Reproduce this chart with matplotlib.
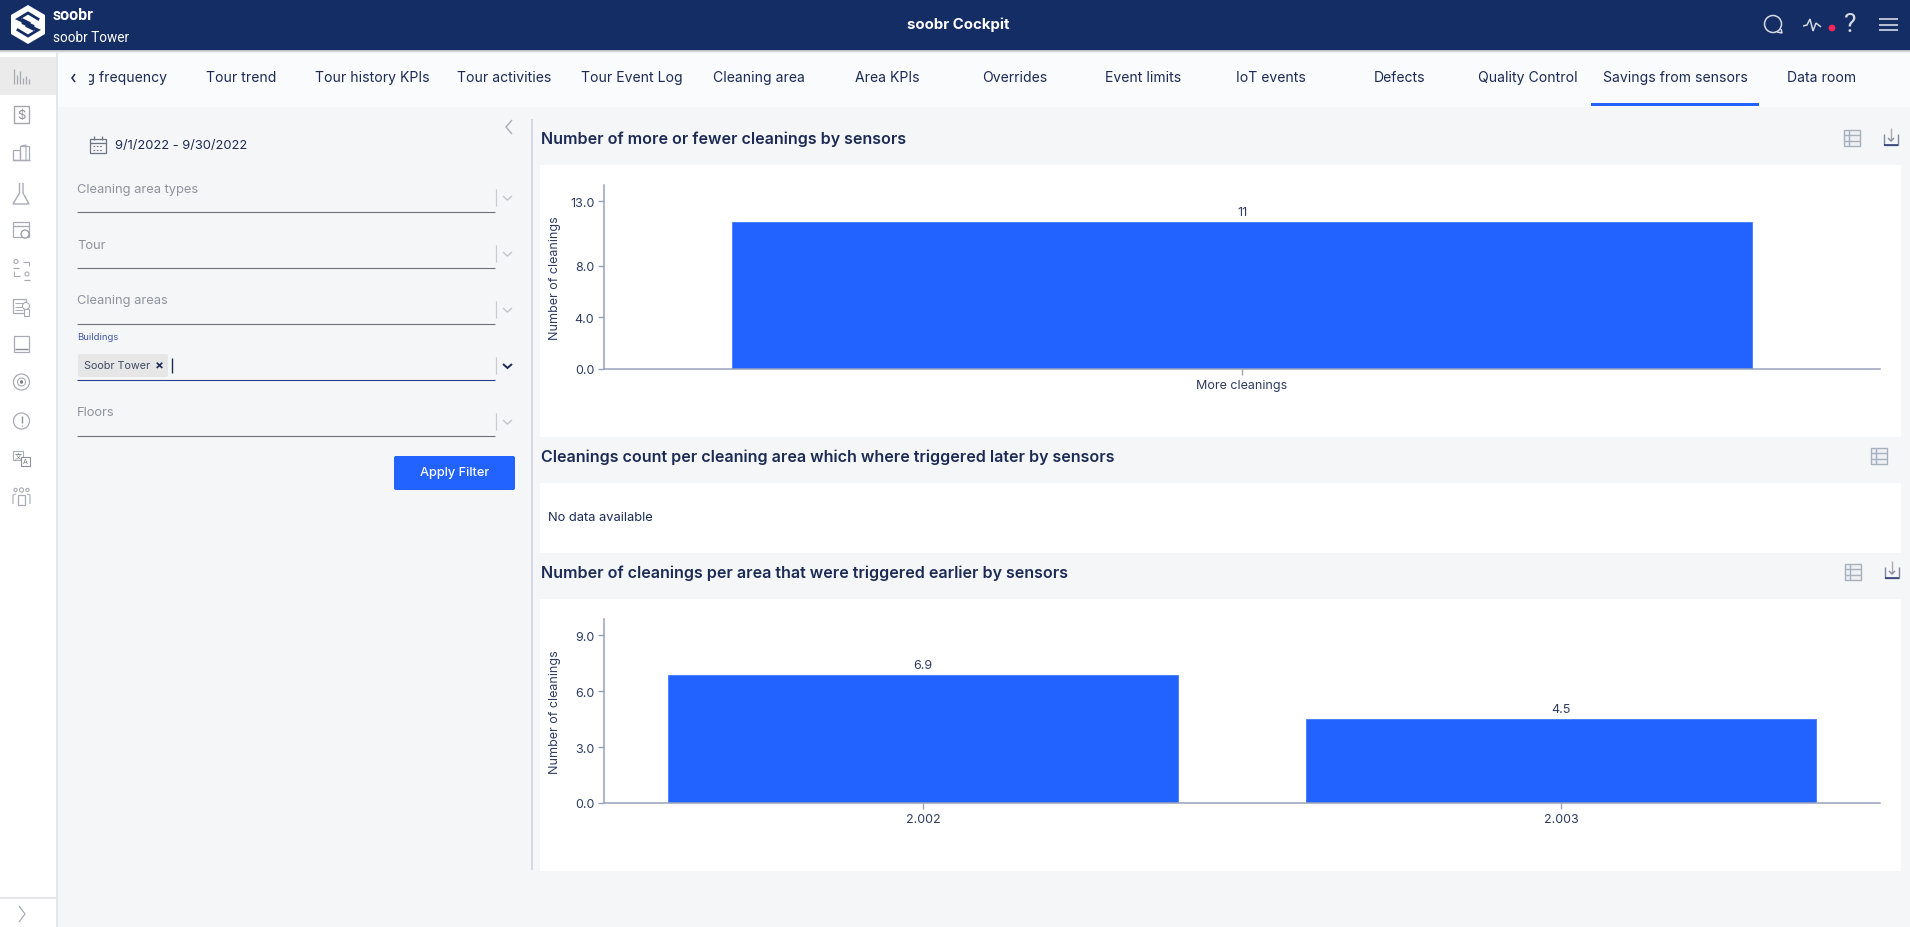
import matplotlib
matplotlib.use("Agg")
import matplotlib.pyplot as plt
from matplotlib.patches import Rectangle, Circle, Polygon, FancyBboxPatch

plt.rcParams['font.family'] = ['Inter', 'DejaVu Sans']

W, H = 1910, 928
NAVY = '#152d65'; BG = '#f5f6f8'; BLUE = '#2263ff'; TXT = '#1c2b55'; AXC = '#98a2bb'
ICON = '#a9acb6'; GREY = '#8f939e'

# ---- data ----
chart1_categories = ['More cleanings']
chart1_values = [11.35]
chart1_labels = ['11']
chart1_ticks = [0, 4, 8, 13]
chart2_categories = ['2.002', '2.003']
chart2_values = [6.86, 4.5]
chart2_labels = ['6.9', '4.5']
chart2_ticks = [0, 3, 6, 9]
tab_names = ['Tour trend', 'Tour history KPIs', 'Tour activities', 'Tour Event Log', 'Cleaning area',
             'Area KPIs', 'Overrides', 'Event limits', 'IoT events', 'Defects', 'Quality Control',
             'Savings from sensors', 'Data room']
tab_centers = [241, 372, 504, 632, 759, 887, 1015, 1143.5, 1271, 1399.5, 1528, 1675, 1822]

fig = plt.figure(figsize=(W / 100, H / 100), dpi=100, facecolor=BG)
ui = fig.add_axes([0, 0, 1, 1])
ui.set_xlim(0, W); ui.set_ylim(H - 1, -1); ui.axis('off')

def rect(x0, y0, x1, y1, c, z=1):
    ui.add_patch(Rectangle((x0, y0), x1 - x0, y1 - y0, fc=c, ec='none', zorder=z))

def line(xs, ys, c=ICON, lw=1.0, z=3):
    ui.plot(xs, ys, color=c, lw=lw, zorder=z, solid_capstyle='butt', solid_joinstyle='miter')

def text(x, y, s, size, c=TXT, ha='left', weight='normal', z=5, **kw):
    return ui.text(x, y, s, fontsize=size, color=c, ha=ha, va='center', fontweight=weight, zorder=z, **kw)

def circ(x, y, r, c=ICON, lw=1.0, fill='none', z=3):
    ui.add_patch(Circle((x, y), r, fc=fill, ec=c, lw=lw, zorder=z))

def box(x0, y0, x1, y1, c=ICON, lw=1.0, fill='none', z=3):
    ui.add_patch(Rectangle((x0, y0), x1 - x0, y1 - y0, fc=fill, ec=c, lw=lw, zorder=z))

# ---- page regions ----
rect(0, 50, W, 107, '#fafbfd')
rect(0, 50, 56, H + 2, 'white', 2)
rect(56, 50, 58, H + 2, '#e4e6eb', 2)
rect(0, 57, 56, 95, '#ebebeb', 3)
rect(0, 897, 56, 899, '#e4e6eb', 3)
rect(0, -2, W, 49.5, NAVY, 6)
for i, c in enumerate(['#b9bcc4', '#d8dae0', '#ecedf1']):
    rect(0, 49.5 + i, W, 50.5 + i, c, 6)
rect(531, 119, 532.5, 870, '#d5d8e0', 2)

# ---- header ----
ui.add_patch(Polygon([(28, 5), (45, 15), (45, 34), (28, 44), (11, 34), (11, 15)], fc='white', ec='none', zorder=7))
ui.plot([38, 28, 18, 33, 33, 27], [19, 13, 19, 26, 29, 26], color=NAVY, lw=2.0, zorder=8, solid_joinstyle='miter')
ui.plot([18, 28, 38, 23, 23, 29], [30, 36, 30, 23, 20, 23], color=NAVY, lw=2.0, zorder=8, solid_joinstyle='miter')
text(53, 15, 'soobr', 11.5, 'white', weight='bold', z=8, family='Roboto')
text(53, 37, 'soobr Tower', 9.8, 'white', z=8, family='Roboto')
text(958, 24, 'soobr Cockpit', 10.8, 'white', ha='center', weight='bold', z=8)
circ(1773, 24, 8.5, '#d5d9e4', 1.1, z=8)
line([1777, 1782, 1781], [32, 33, 29], '#d5d9e4', 1.1, 8)
line([1803, 1807, 1810, 1813, 1816, 1821], [26, 25, 19, 31, 23, 27], '#d5d9e4', 1.1, 8)
circ(1832, 28, 3.4, 'none', 0, '#f5275a', 8)
text(1850, 24.5, '?', 19, '#d5d9e4', ha='center', z=8, family='Roboto')
for yy in (19, 25, 30):
    line([1879, 1898], [yy, yy], '#e6e8ee', 1.1, 8)

# ---- tabs ----
text(167, 77, 'ng frequency', 10.1, ha='right')
rect(58, 60, 89, 100, '#fafbfd', 6)
line([75, 72, 75], [74, 78, 82], TXT, 1.1, 7)
for name, cx in zip(tab_names, tab_centers):
    text(cx, 77, name, 10.1, ha='center', z=5)
rect(1591, 103, 1759, 106, BLUE, 5)

# ---- sidebar icons ----
for x, top in zip((14, 17, 20, 23, 26, 29), (69, 75, 71, 78, 76, 79)):
    line([x, x], [top, 84], '#a6a8b2', 0.9, 4)
box(14, 106, 29, 123, '#a9a4ad', 1.0)
text(21.5, 114.5, '$', 9.5, '#8d8f9b', ha='center')
box(13, 150, 20, 160, ICON, 0.9); box(20, 146, 29, 160, ICON, 0.9)
line([13, 30], [160, 160], ICON, 1.0)
line([21, 26, 26], [146, 145, 160], ICON, 0.8)
line([19.5, 19.5, 13, 29, 23, 23], [183, 193, 204, 204, 193, 183], ICON, 1.0)
box(13, 222, 29, 237, ICON, 0.9)
line([13, 29], [226, 226], ICON, 1.0)
circ(25, 234, 4, '#989ba7', 0.9, 'white', 4)
circ(16, 261.5, 2, ICON, 0.8); circ(27, 274, 2, ICON, 0.8)
line([13, 19], [268, 268], ICON, 0.9); line([24, 30], [280, 280], ICON, 0.9)
line([23, 29, 29], [262, 262, 266], ICON, 0.8); line([14, 14, 20], [271, 276, 276], ICON, 0.8)
box(13, 299, 26, 313, ICON, 0.9)
for yy in (303, 307, 310):
    line([15, 23], [yy, yy], ICON, 0.7)
circ(26, 306, 3.5, ICON, 0.8, 'white', 4); box(24, 309, 29, 316, ICON, 0.8, 'white', 4)
box(14, 336, 29, 352, ICON, 0.9)
line([15, 28], [349, 349], '#898c97', 1.0)
circ(21.5, 382, 8, ICON, 0.9); circ(21.5, 382, 4, ICON, 0.8); circ(21.5, 382, 1.3, '#777', 0.5, '#777')
circ(21.5, 421, 8, ICON, 0.9); line([21.5, 21.5], [416, 423], '#8d8f9b', 1.0); line([21.5, 21.5], [425, 426], '#8d8f9b', 1.0)
box(13, 451, 23, 460, ICON, 0.8); box(21, 457, 30, 466, '#8d8f9b', 0.8, 'white', 4)
text(18, 455.5, '文', 5, '#777', ha='center', family=['Noto Sans CJK SC'])
text(25.5, 461.5, 'A', 5, '#777', ha='center')
for cx, r in ((15.5, 1.6), (21.5, 2.1), (27.5, 1.6)):
    circ(cx, 490, r, ICON, 0.8)
box(18, 495, 25, 505, ICON, 0.9)
line([13, 13, 16], [504, 495, 494], ICON, 0.8); line([30, 30, 27], [504, 495, 494], ICON, 0.8)
line([19, 25, 19], [906, 914, 922], ICON, 0.9)

# ---- filter panel ----
line([512, 506, 512], [120, 127, 134], ICON, 1.0)
box(90, 139, 106, 153, '#6a7487', 0.9)
line([90, 106], [143, 143], '#6a7487', 0.9)
line([94, 94], [136, 140], '#6a7487', 0.9); line([102, 102], [136, 140], '#6a7487', 0.9)
for yy in (146, 150):
    ui.plot([93, 103], [yy, yy], color='#6a7487', lw=0.8, ls=(0, (1.5, 1.5)), zorder=3)
text(115, 144.5, '9/1/2022 - 9/30/2022', 9.3)

def field(label, ly, line_y, sep_top, active=False):
    if label:
        text(77, ly, label, 9.3, GREY)
    line([77, 495], [line_y, line_y], '#2b3f8e' if active else '#6e7179', 0.8)
    line([495.5, 495.5], [sep_top, sep_top + 17], '#c9cbd1', 0.9)
    cy = sep_top + 9
    c = '#1c2b55' if active else '#c4c6cc'
    line([503, 507.5, 512], [cy - 2, cy + 2, cy - 2], c, 1.4 if active else 1.0)

field('Cleaning area types', 189, 211.5, 189)
field('Tour', 245, 267.5, 245)
field('Cleaning areas', 300, 324, 301)
field('', 0, 380, 357, True)
field('Floors', 412, 436, 413)
text(77, 337, 'Buildings', 6.8, '#3f56a8')
ui.add_patch(FancyBboxPatch((78, 354), 90, 23, boxstyle='round,pad=0,rounding_size=2', fc='#e6e6e6', ec='none', zorder=3))
text(83.5, 365, 'Soobr Tower', 7.8, '#404a63')
text(159.5, 365, '×', 9.5, TXT, ha='center', weight='bold')
line([171.5, 171.5], [358, 373], TXT, 1.0)
ui.add_patch(FancyBboxPatch((394, 456), 121, 34, boxstyle='round,pad=0,rounding_size=2', fc=BLUE, ec='none', zorder=3))
text(455, 472, 'Apply Filter', 9.2, 'white', ha='center', weight='medium')

# ---- panels, titles, icons ----
rect(540, 165, 1901, 437, 'white')
rect(540, 483, 1901, 553, 'white')
rect(540, 599, 1901, 871, 'white')
text(541, 138, 'Number of more or fewer cleanings by sensors', 11.55, weight='semibold')
text(541, 456.5, 'Cleanings count per cleaning area which where triggered later by sensors', 11.55, weight='semibold')
text(541, 572.5, 'Number of cleanings per area that were triggered earlier by sensors', 11.55, weight='semibold')
text(548, 517, 'No data available', 9.3)

def table_icon(cx, cy):
    box(cx - 8, cy - 8, cx + 8, cy + 8, '#a8b0bc', 1.0, '#eef0f3')
    line([cx - 8, cx + 8], [cy - 3, cy - 3], '#a8b0bc', 1.0)
    line([cx - 8, cx + 8], [cy + 3, cy + 3], '#a8b0bc', 1.0)
    line([cx - 3, cx - 3], [cy - 8, cy + 8], '#9fb0c8', 1.0)

def download_icon(cx, cy):
    line([cx - 7, cx - 7, cx + 7, cx + 7], [cy - 3, cy + 8, cy + 8, cy - 3], '#7f8aa3', 1.0)
    line([cx - 7, cx + 7], [cy + 8, cy + 8], '#33407a', 1.2)
    line([cx, cx], [cy - 9, cy + 4], '#b3a8ae', 1.0)
    line([cx - 3, cx, cx + 3], [cy + 1, cy + 4, cy + 1], '#7f8aa3', 1.0)

table_icon(1852, 138); download_icon(1891, 137)
table_icon(1879, 456)
table_icon(1853, 572); download_icon(1892, 570)

# ---- charts ----
def bar_chart(top, bottom, ymax, categories, values, labels, ticks):
    ax = fig.add_axes([604 / W, 1 - (bottom + 1) / H, 1276 / W, (bottom - top) / H], facecolor='none')
    pos = list(range(len(categories)))
    bars = ax.bar(pos, values, width=0.8, color=BLUE, edgecolor='#3f7aff', linewidth=0.6, zorder=2)
    ax.bar_label(bars, labels=labels, padding=3, fontsize=9, color='#2e3c60')
    ax.set_xlim(-0.5, len(categories) - 0.5)
    ax.set_ylim(0, ymax)
    ax.set_xticks(pos, categories)
    ax.set_yticks(ticks, [f'{t:.1f}' for t in ticks])
    ax.tick_params(axis='both', colors=AXC, labelcolor='#2e3c60', labelsize=9, length=4, width=1, pad=3)
    ax.tick_params(axis='x', pad=3)
    for s in ('top', 'right'):
        ax.spines[s].set_visible(False)
    for s in ('left', 'bottom'):
        ax.spines[s].set_color(AXC)
        ax.spines[s].set_linewidth(1.1)
    ax.set_ylabel('Number of cleanings', fontsize=9, color='#2e3c60')
    ax.yaxis.set_label_coords((561 - 604) / 1276, 0.5)
    return ax

bar_chart(185, 369, 14.24, chart1_categories, chart1_values, chart1_labels, chart1_ticks)
bar_chart(619, 803, 9.86, chart2_categories, chart2_values, chart2_labels, chart2_ticks)

fig.savefig('out.png', dpi=100, facecolor=BG)
